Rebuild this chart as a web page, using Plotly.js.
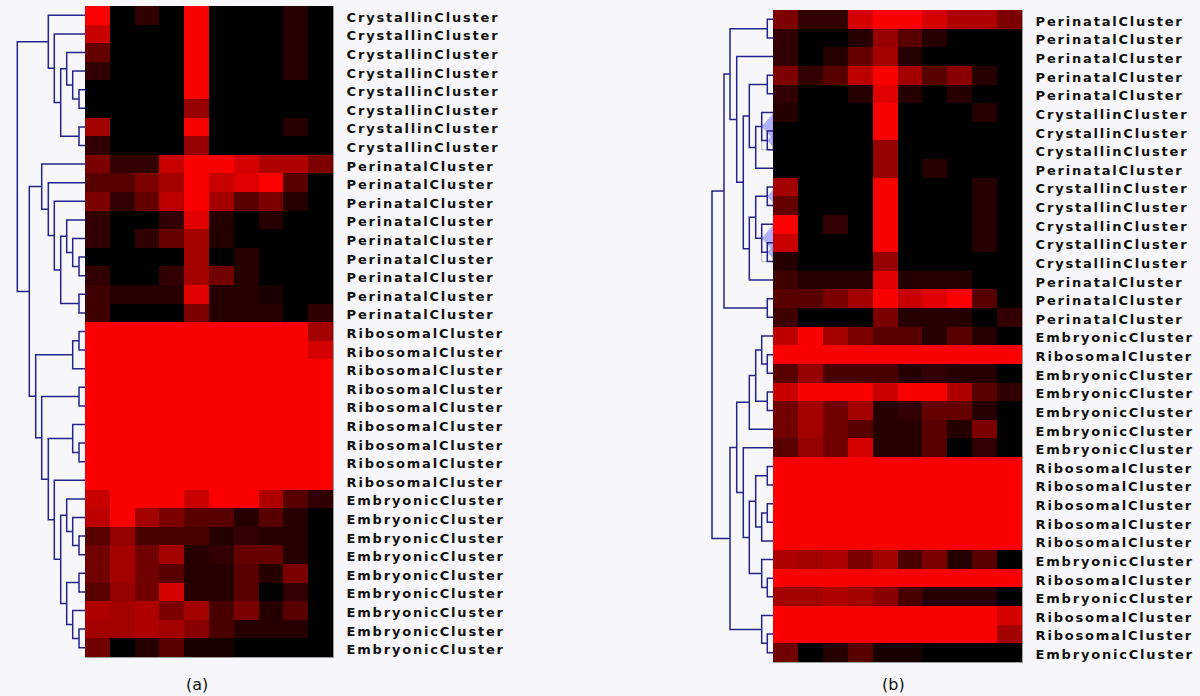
<!DOCTYPE html>
<html><head><meta charset="utf-8">
<script src="https://cdn.plot.ly/plotly-3.0.1.min.js"></script>
<style>
html,body{margin:0;padding:0;background:#f7f7f9;}
#chart{width:1200px;height:696px;}
.ytick text, .y3tick text{letter-spacing:1.8px;}
</style></head><body><div id="chart"></div>
<script>
// ---------- DATA ----------
const C='CrystallinCluster', P='PerinatalCluster', R='RibosomalCluster', E='EmbryonicCluster';
const leftLabels = [C,C,C,C,C,C,C,C, P,P,P,P,P,P,P,P,P, R,R,R,R,R,R,R,R,R, E,E,E,E,E,E,E,E,E];
const rightLabels = [P,P,P,P,P, C,C,C, P, C,C,C,C,C, P,P,P, E,R,E,E,E,E,E, R,R,R,R,R, E,R,E,R,R,E];

// expression level 0 (black) .. 10 (bright red), 10 columns per row
const leftValues = [
 [10,0,2,0,10,0,0,0,1.5,0],
 [8,0,0,0,10,0,0,0,1.5,0],
 [4,0,0,0,10,0,0,0,1.5,0],
 [2,0,0,0,10,0,0,0,1.5,0],
 [0,0,0,0,10,0,0,0,0,0],
 [0,0,0,0,6,0,0,0,0,0],
 [6.5,0,0,0,10,0,0,0,1.5,0],
 [2,0,0,0,6,0,0,0,0,0],
 [5,2,2,8,10,10,8.5,7,7,5],
 [3.5,3.5,5,6.5,10,8,9,10,3.5,0],
 [5,2,4,7.5,10,6.5,3.5,5,1.5,0],
 [2,0,0,2,9,1.5,0,1.5,0,0],
 [2,0,2,4,6.5,1.5,0,0,0,0],
 [0,0,0,0,6.5,0,1.5,0,0,0],
 [2,0,0,2,6.5,4.5,1.5,0,0,0],
 [2.5,1.5,1.5,1.5,9,1.5,1.5,1,0,0],
 [2.5,0,0,0,5,1.5,1.5,1.5,0,2],
 [10,10,10,10,10,10,10,10,10,6.5],
 [10,10,10,10,10,10,10,10,10,8.5],
 [10,10,10,10,10,10,10,10,10,10],
 [10,10,10,10,10,10,10,10,10,10],
 [10,10,10,10,10,10,10,10,10,10],
 [10,10,10,10,10,10,10,10,10,10],
 [10,10,10,10,10,10,10,10,10,10],
 [10,10,10,10,10,10,10,10,10,10],
 [10,10,10,10,10,10,10,10,10,10],
 [8,10,10,10,8,10,10,7,3.5,2],
 [7.5,10,6.5,5,3.5,3.5,1.5,3.5,1.5,0],
 [3.5,6,3,3,3,1.5,2,1.5,1.5,0],
 [4.5,6.5,4.5,6.5,1.5,2,4,4,1.5,0],
 [4.5,6.5,4.5,3.5,1.5,1.5,3.5,1.5,5,0],
 [3.5,6,4.5,8.5,1.5,1.5,3.5,0,2,0],
 [7,6.5,7,5,6.5,3,5,1.5,3.5,0],
 [6.5,6.5,7,6.5,5.5,3,1.5,1.5,1.5,0],
 [4.5,0,1.5,3.5,1,1,0,0,0,0]
];
const rightValues = [
 [5,2,2,8.5,10,10,8.5,7,7,5],
 [2,0,0,1.5,6,3.5,1.5,0,0,0],
 [2,0,1.5,4,6.5,1.5,0,0,0,0],
 [5,2,3.5,7.5,10,6.5,3.5,5.5,1.5,0],
 [2,0,0,1.5,9,1.5,0,1.5,0,0],
 [1.5,0,0,0,10,0,0,0,1.5,0],
 [0,0,0,0,10,0,0,0,0,0],
 [0,0,0,0,6,0,0,0,0,0],
 [0,0,0,0,6,0,1.5,0,0,0],
 [6.5,0,0,0,10,0,0,0,1.5,0],
 [4,0,0,0,10,0,0,0,1.5,0],
 [10,0,2,0,10,0,0,0,1.5,0],
 [8,0,0,0,10,0,0,0,1.5,0],
 [1.5,0,0,0,6,0,0,0,0,0],
 [2.5,1.5,1.5,1.5,9,1.5,1.5,1.5,0,0],
 [3.5,3.5,5,6.5,10,8,9,10,3.5,0],
 [2.5,0,0,0,5,1.5,1.5,1.5,0,2],
 [7.5,10,6.5,5,3.5,3.5,1.5,3.5,1.5,0],
 [10,10,10,10,10,10,10,10,10,10],
 [3.5,6,3,3,3,1.5,2,1.5,1.5,0],
 [8,10,10,10,8,10,10,7,3.5,2],
 [4.5,6.5,4.5,6.5,1.5,2,4,4,1.5,0],
 [4.5,6.5,4.5,3.5,1.5,1.5,3.5,1.5,5,0],
 [3.5,6,4.5,8.5,1.5,1.5,3.5,0,2,0],
 [10,10,10,10,10,10,10,10,10,10],
 [10,10,10,10,10,10,10,10,10,10],
 [10,10,10,10,10,10,10,10,10,10],
 [10,10,10,10,10,10,10,10,10,10],
 [10,10,10,10,10,10,10,10,10,10],
 [7,6.5,7,5,6.5,3,5,1.5,3.5,0],
 [10,10,10,10,10,10,10,10,10,10],
 [6.5,6.5,7,6.5,5.5,3,1.5,1.5,1.5,0],
 [10,10,10,10,10,10,10,10,10,8.5],
 [10,10,10,10,10,10,10,10,10,6.5],
 [4.5,0,1.5,3.5,1,1,0,0,0,0]
];

// dendrogram linkage: [childA, childB, mergeHeight]; leaves 0..34, merge k gets id 35+k
const leftMerges = [
 [4,5,6],[3,35,12.3],[2,36,18.3],[6,7,6],[37,38,24.3],[1,39,30.7],[0,40,36.7],
 [13,14,6],[12,42,12.3],[11,43,18.3],[15,16,6],[44,45,24.3],[10,46,30.7],[9,47,36.7],[8,48,43.3],
 [17,18,6],[50,19,12.3],[20,21,6],[23,24,6],[22,53,12.3],[28,29,6],[27,55,12.3],[26,56,18.3],
 [30,31,6],[33,34,6],[32,59,12.3],[58,60,18.3],[57,61,24.3],[25,62,30.7],[54,63,36.7],
 [52,64,43.3],[51,65,49.3],[49,66,55.7],[41,67,67.7]
];
const rightMerges = [
 [0,1,5.7],[3,4,5.7],[6,7,5.7],[5,37,11.3],[38,8,17.3],[36,39,23.7],
 [9,10,5.7],[12,13,5.7],[11,42,11.3],[41,43,17.3],[44,14,23.7],[40,45,29.7],
 [2,46,36.3],[35,47,43],[15,16,5.7],[48,49,49],
 [18,19,5.7],[17,51,11.3],[20,21,5.7],[52,53,17.3],[54,22,23.7],
 [24,25,5.7],[26,27,5.7],[57,28,11.3],[56,58,17.3],[30,31,5.7],[29,60,11.3],[59,61,23.7],
 [23,62,29.7],[55,63,36.3],[33,34,5.7],[32,65,11.3],[64,66,43],[50,67,61]
];
// nodes of the right tree that are shown as selected
const rightSelected = [38, 37, 41, 43, 42];

// ---------- LAYOUT HELPERS ----------
const W=1200, H=696;
const L = {x0:85, x1:333, y0:6, y1:657};
const Rt = {x0:773, x1:1022, y0:10, y1:662};
const fx = p => p/W, fy = p => 1 - p/H;

function dendro(merges, n){
  const pos=[], ht=[], lo=[], hi=[], xs=[], ys=[];
  for(let i=0;i<n;i++){pos.push(i);ht.push(0);lo.push(i);hi.push(i);}
  merges.forEach(([a,b,h])=>{
    xs.push(ht[a],h,h,ht[b],null);
    ys.push(pos[a],pos[a],pos[b],pos[b],null);
    pos.push((pos[a]+pos[b])/2); ht.push(h);
    lo.push(Math.min(lo[a],lo[b])); hi.push(Math.max(hi[a],hi[b]));
  });
  return {xs,ys,pos,ht,lo,hi};
}
const dl = dendro(leftMerges, leftLabels.length);
const dr = dendro(rightMerges, rightLabels.length);

const cs = [[0,'#000000'],[1,'#fa0000']];
const idx = a => a.map((_,i)=>i);
const cols = idx(leftValues[0]);
const rowPx = (Rt.y1-Rt.y0)/rightLabels.length;

// selection markers (diamond + box) on right tree nodes
const selTraces = [];
const selShapes = [];
rightSelected.forEach(id=>{
  const h = dr.ht[id], yc = dr.pos[id], dy = h*1.15/rowPx;
  selTraces.push({type:'scatter', mode:'lines', x:[h,0,-h,0,h], y:[yc,yc-dy,yc,yc+dy,yc], fill:'toself',
    fillcolor:'rgba(140,140,255,0.65)', line:{width:0, color:'rgba(0,0,0,0)'}, xaxis:'x4', yaxis:'y3', hoverinfo:'skip'});
  selShapes.push({type:'rect', xref:'x4', yref:'y3', x0:h, x1:0, y0:dr.lo[id], y1:dr.hi[id],
    line:{color:'rgba(170,170,170,0.8)', width:1}, fillcolor:'rgba(0,0,0,0)', layer:'below'});
});

const traces = [
 ...selTraces,
 {type:'heatmap', z:leftValues, x:cols, y:idx(leftLabels), xaxis:'x', yaxis:'y', colorscale:cs, zmin:0, zmax:10, showscale:false, hoverinfo:'skip'},
 {type:'heatmap', z:rightValues, x:cols, y:idx(rightLabels), xaxis:'x3', yaxis:'y3', colorscale:cs, zmin:0, zmax:10, showscale:false, hoverinfo:'skip'},
 {type:'scatter', mode:'lines', x:dl.xs, y:dl.ys, xaxis:'x2', yaxis:'y', line:{color:'#24248c', width:1.5}, hoverinfo:'skip', connectgaps:false},
 {type:'scatter', mode:'lines', x:dr.xs, y:dr.ys, xaxis:'x4', yaxis:'y3', line:{color:'#24248c', width:1.5}, hoverinfo:'skip', connectgaps:false}
];

const tickFont = {family:'DejaVu Sans', size:13, color:'#111', weight:'bold'};
const hidden = {showgrid:false, zeroline:false, showticklabels:false, ticks:''};
const shiftTicks = a => a.map((_,i)=>i+0.1);
const layout = {
 width:W, height:H, margin:{l:0,r:0,t:0,b:0},
 paper_bgcolor:'#f7f7f9', plot_bgcolor:'rgba(0,0,0,0)', showlegend:false,
 xaxis: Object.assign({}, hidden, {domain:[fx(L.x0), fx(L.x1)], range:[-0.5, cols.length-0.5], anchor:'y', showline:true, linecolor:'#9a9a9a', linewidth:1}),
 yaxis: {domain:[fy(L.y1), fy(L.y0)], range:[leftLabels.length-0.5, -0.5], anchor:'x', side:'right',
   tickvals:shiftTicks(leftLabels), ticktext:leftLabels, ticks:'outside', ticklen:10, tickcolor:'rgba(0,0,0,0)',
   tickfont:tickFont, showgrid:false, zeroline:false, showline:true, linecolor:'#9a9a9a', linewidth:1},
 xaxis2: Object.assign({}, hidden, {domain:[0, fx(L.x0)], range:[L.x0, 0], anchor:'y', showline:false}),
 xaxis3: Object.assign({}, hidden, {domain:[fx(Rt.x0), fx(Rt.x1)], range:[-0.5, cols.length-0.5], anchor:'y3', showline:true, linecolor:'#9a9a9a', linewidth:1}),
 yaxis3: {domain:[fy(Rt.y1), fy(Rt.y0)], range:[rightLabels.length-0.5, -0.5], anchor:'x3', side:'right',
   tickvals:shiftTicks(rightLabels), ticktext:rightLabels, ticks:'outside', ticklen:10, tickcolor:'rgba(0,0,0,0)',
   tickfont:tickFont, showgrid:false, zeroline:false, showline:true, linecolor:'#9a9a9a', linewidth:1},
 xaxis4: Object.assign({}, hidden, {domain:[fx(690), fx(Rt.x0)], range:[Rt.x0-690, 0], anchor:'y3', showline:false}),
 shapes: selShapes,
 annotations:[
  {text:'(a)', x:fx(197), y:fy(684), xref:'paper', yref:'paper', xanchor:'center', yanchor:'middle', showarrow:false, font:{family:'DejaVu Sans', size:16, color:'#111'}},
  {text:'(b)', x:fx(893), y:fy(684), xref:'paper', yref:'paper', xanchor:'center', yanchor:'middle', showarrow:false, font:{family:'DejaVu Sans', size:16, color:'#111'}}
 ]
};
Plotly.newPlot('chart', traces, layout, {staticPlot:true, displayModeBar:false});
</script></body></html>
